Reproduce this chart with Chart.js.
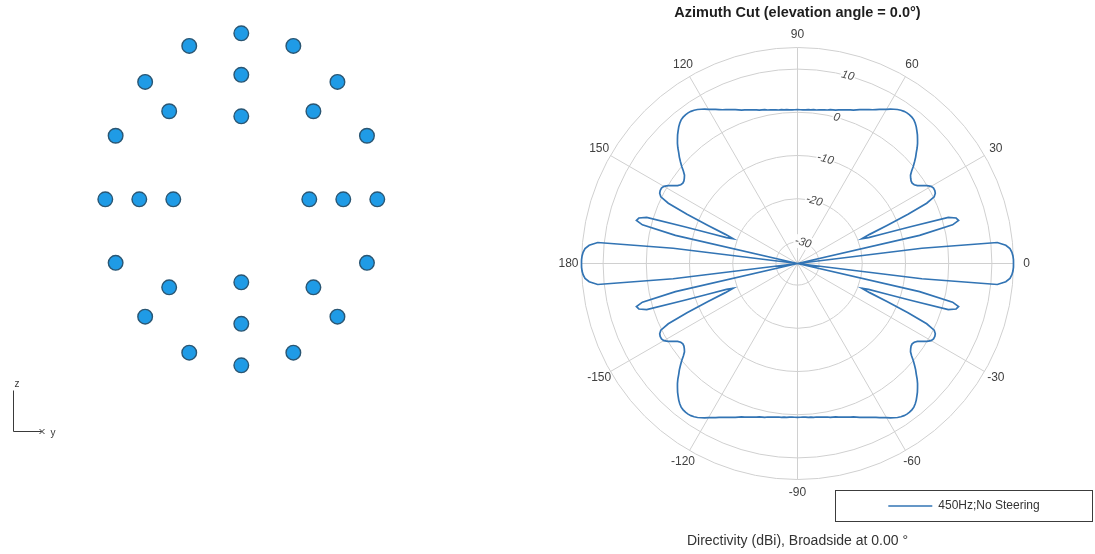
<!DOCTYPE html>
<html>
<head>
<meta charset="utf-8">
<title>Array geometry and azimuth cut</title>
<script src="https://cdn.jsdelivr.net/npm/chart.js@4.4.1/dist/chart.umd.min.js"></script>
<style>
  html, body { margin: 0; padding: 0; background: #fff; }
  body { width: 1095px; height: 554px; position: relative; overflow: hidden; }
  #geoBox { position: absolute; left: 0; top: 0; width: 480px; height: 480px; }
  #polarBox { position: absolute; left: 501px; top: 0; width: 593px; height: 554px; }
</style>
</head>
<body>
<div id="geoBox"><canvas id="geoChart"></canvas></div>
<div id="polarBox"><canvas id="polarChart"></canvas></div>
<script>
const FONT = '"Liberation Sans", Arial, Helvetica, sans-serif';

// element positions (m): y across, z up
const elementY = [0.2, 0, -0.2, 0,
    0.3, 0.2121, 0, -0.2121, -0.3, -0.2121, 0, 0.2121,
    0.4, 0.3696, 0.2828, 0.1531, 0, -0.1531, -0.2828, -0.3696,
    -0.4, -0.3696, -0.2828, -0.1531, 0, 0.1531, 0.2828, 0.3696];
const elementZ = [0, 0.2, 0, -0.2,
    0, 0.2121, 0.3, 0.2121, 0, -0.2121, -0.3, -0.2121,
    0, 0.1531, 0.2828, 0.3696, 0.4, 0.3696, 0.2828, 0.1531,
    0, -0.1531, -0.2828, -0.3696, -0.4, -0.3696, -0.2828, -0.1531];

// azimuth grid, -180 .. 179 deg in 1 deg steps
const azimuthDeg = Array.from({ length: 360 }, (_, k) => k - 180);

// directivity (dBi) at each azimuth of azimuthDeg, clipped at -35
const directivityDbi = [
    // -180 .. -90
    15.0, 15.0, 14.9, 14.7, 14.3, 13.4, 11.5, -6.0, -35, -35,
    -35, -35, -35, -6.0, 2.0, 3.6, 3.2, 1.5, -7.5, -13.5,
    -17.5, -19.0, -17.0, -12.5, -7.0, -2.0, 0.2, 0.8, 1.0, 1.0,
    0.7, 0.0, -1.0, -1.9, -2.4, -2.6, -2.5, -2.2, -1.8, -1.0,
    0.0, 0.9, 1.8, 2.6, 3.5, 4.3, 5.0, 5.7, 6.3, 6.9,
    7.4, 7.8, 8.0, 8.1, 8.1, 8.0, 7.8, 7.5, 7.1, 6.7,
    6.2, 5.8, 5.4, 5.0, 4.6, 4.3, 4.0, 3.7, 3.4, 3.1,
    2.8, 2.6, 2.4, 2.2, 2.0, 1.8, 1.6, 1.5, 1.4, 1.2,
    1.1, 1.0, 0.9, 0.8, 0.8, 0.7, 0.7, 0.6, 0.6, 0.6,
    0.6,
    // -89 .. -1
    0.6, 0.6, 0.6, 0.7, 0.7, 0.8, 0.8, 0.9, 1.0, 1.1,
    1.2, 1.4, 1.5, 1.6, 1.8, 2.0, 2.2, 2.4, 2.6, 2.8,
    3.1, 3.4, 3.7, 4.0, 4.3, 4.6, 5.0, 5.4, 5.8, 6.2,
    6.7, 7.1, 7.5, 7.8, 8.0, 8.1, 8.1, 8.0, 7.8, 7.4,
    6.9, 6.3, 5.7, 5.0, 4.3, 3.5, 2.6, 1.8, 0.9, 0.0,
    -1.0, -1.8, -2.2, -2.5, -2.6, -2.4, -1.9, -1.0, 0.0, 0.7,
    1.0, 1.0, 0.8, 0.2, -2.0, -7.0, -12.5, -17.0, -19.0, -17.5,
    -13.5, -7.5, 1.5, 3.2, 3.6, 2.0, -6.0, -35, -35, -35,
    -35, -35, -6.0, 11.5, 13.4, 14.3, 14.7, 14.9, 15.0,
    // 0 .. 90
    15.0, 15.0, 14.9, 14.7, 14.3, 13.4, 11.5, -6.0, -35, -35,
    -35, -35, -35, -6.0, 2.0, 3.6, 3.2, 1.5, -7.5, -13.5,
    -17.5, -19.0, -17.0, -12.5, -7.0, -2.0, 0.2, 0.8, 1.0, 1.0,
    0.7, 0.0, -1.0, -1.9, -2.4, -2.6, -2.5, -2.2, -1.8, -1.0,
    0.0, 0.9, 1.8, 2.6, 3.5, 4.3, 5.0, 5.7, 6.3, 6.9,
    7.4, 7.8, 8.0, 8.1, 8.1, 8.0, 7.8, 7.5, 7.1, 6.7,
    6.2, 5.8, 5.4, 5.0, 4.6, 4.3, 4.0, 3.7, 3.4, 3.1,
    2.8, 2.6, 2.4, 2.2, 2.0, 1.8, 1.6, 1.5, 1.4, 1.2,
    1.1, 1.0, 0.9, 0.8, 0.8, 0.7, 0.7, 0.6, 0.6, 0.6,
    0.6,
    // 91 .. 179
    0.6, 0.6, 0.6, 0.7, 0.7, 0.8, 0.8, 0.9, 1.0, 1.1,
    1.2, 1.4, 1.5, 1.6, 1.8, 2.0, 2.2, 2.4, 2.6, 2.8,
    3.1, 3.4, 3.7, 4.0, 4.3, 4.6, 5.0, 5.4, 5.8, 6.2,
    6.7, 7.1, 7.5, 7.8, 8.0, 8.1, 8.1, 8.0, 7.8, 7.4,
    6.9, 6.3, 5.7, 5.0, 4.3, 3.5, 2.6, 1.8, 0.9, 0.0,
    -1.0, -1.8, -2.2, -2.5, -2.6, -2.4, -1.9, -1.0, 0.0, 0.7,
    1.0, 1.0, 0.8, 0.2, -2.0, -7.0, -12.5, -17.0, -19.0, -17.5,
    -13.5, -7.5, 1.5, 3.2, 3.6, 2.0, -6.0, -35, -35, -35,
    -35, -35, -6.0, 11.5, 13.4, 14.3, 14.7, 14.9, 15.0
];

const ringTicksDb = [-30, -20, -10, 0, 10];
const rMin = -35;
const rMax = 15;
const azimuthTicks = [0, 30, 60, 90, 120, 150, 180, -150, -120, -90, -60, -30];

// radar goes clockwise from its start angle, azimuth runs the other way
const startAz = 75;
const polarLabels = [];
const polarData = [];
for (let i = 0; i < 360; i++) {
    let az = startAz - i;
    if (az < -180) az += 360;
    polarLabels.push(az);
    polarData.push(directivityDbi[azimuthDeg.indexOf(az)]);
}

// small y/z orientation glyph in the lower left corner
const axisTriad = {
    id: 'axisTriad',
    afterDraw(chart) {
        const ctx = chart.ctx;
        const x0 = 13.5, y0 = 431.5;
        ctx.save();
        ctx.strokeStyle = '#3a3a3a';
        ctx.lineWidth = 1;
        ctx.beginPath();
        ctx.moveTo(x0, y0 - 41);
        ctx.lineTo(x0, y0);
        ctx.lineTo(x0 + 28, y0);
        ctx.stroke();
        ctx.beginPath();
        ctx.moveTo(x0 + 26, y0 - 2.5); ctx.lineTo(x0 + 31, y0 + 2.5);
        ctx.moveTo(x0 + 26, y0 + 2.5); ctx.lineTo(x0 + 31, y0 - 2.5);
        ctx.stroke();
        ctx.fillStyle = '#3a3a3a';
        ctx.font = '10px ' + FONT;
        ctx.textBaseline = 'middle';
        ctx.fillText('z', x0 + 1, y0 - 47);
        ctx.fillText('y', x0 + 37, y0 + 2);
        ctx.restore();
    }
};

// azimuth labels centred on a fixed radius outside the outer ring
const azimuthLabels = {
    id: 'azimuthLabels',
    afterDraw(chart) {
        const r = chart.scales.r;
        const ctx = chart.ctx;
        ctx.save();
        ctx.font = '12px ' + FONT;
        ctx.fillStyle = '#404040';
        ctx.textAlign = 'center';
        ctx.textBaseline = 'middle';
        azimuthTicks.forEach(t => {
            const idx = polarLabels.indexOf(t === 180 ? -180 : t);
            const p = r.getPointPosition(idx, r.drawingArea + 13);
            ctx.fillText(String(t), p.x, p.y);
        });
        ctx.restore();
    }
};

// legend sits in a framed box at the lower right
const legendFrame = {
    id: 'legendFrame',
    afterLayout(chart) {
        const lg = chart.legend;
        lg.left = 334; lg.right = 592;
        lg.top = 490; lg.bottom = 522;
        lg.width = 258; lg.height = 32;
    },
    afterDraw(chart) {
        const lg = chart.legend;
        const ctx = chart.ctx;
        ctx.save();
        ctx.strokeStyle = '#3c3c3c';
        ctx.lineWidth = 1;
        ctx.strokeRect(lg.left + 0.5, lg.top + 0.5, lg.width - 1, lg.height - 1);
        ctx.restore();
    }
};

new Chart(document.getElementById('geoChart'), {
    type: 'scatter',
    data: {
        datasets: [{
            label: 'Elements',
            data: elementY.map((y, k) => ({ x: y, y: elementZ[k] })),
            pointRadius: 7.3,
            pointBorderWidth: 1.4,
            pointBackgroundColor: '#1f9be6',
            pointBorderColor: '#2a5673'
        }]
    },
    options: {
        responsive: true,
        maintainAspectRatio: false,
        animation: false,
        layout: { padding: 0, autoPadding: false },
        plugins: { legend: { display: false }, tooltip: { enabled: false } },
        scales: {
            x: { display: false, min: -0.7097, max: 0.7021 },
            y: { display: false, min: -0.6764, max: 0.4802 }
        }
    },
    plugins: [axisTriad]
});

new Chart(document.getElementById('polarChart'), {
    type: 'radar',
    data: {
        labels: polarLabels,
        datasets: [{
            label: '450Hz;No Steering',
            data: polarData,
            borderColor: '#3274b4',
            backgroundColor: '#3274b4',
            borderWidth: 1.7,
            pointRadius: 0,
            pointHitRadius: 0,
            fill: false,
            clip: false,
            tension: 0
        }]
    },
    options: {
        responsive: true,
        maintainAspectRatio: false,
        animation: false,
        plugins: {
            title: {
                display: true,
                text: 'Azimuth Cut (elevation angle = 0.0°)',
                color: '#1e1e1e',
                font: { family: FONT, size: 14.5, weight: 'bold' },
                padding: { top: 4, bottom: 4 }
            },
            subtitle: {
                display: true,
                position: 'bottom',
                text: 'Directivity (dBi), Broadside at 0.00 °',
                color: '#333',
                font: { family: FONT, size: 14 },
                padding: { top: 4, bottom: 4.5 }
            },
            legend: {
                display: true,
                position: 'bottom',
                align: 'center',
                labels: {
                    usePointStyle: true,
                    pointStyle: 'line',
                    pointStyleWidth: 44,
                    color: '#333',
                    font: { family: FONT, size: 12 },
                    padding: 10
                }
            },
            tooltip: { enabled: false }
        },
        scales: {
            r: {
                min: rMin,
                max: rMax,
                startAngle: 90 - startAz,
                afterBuildTicks: s => {
                    s.ticks = [rMin, ...ringTicksDb, rMax].map(v => ({ value: v }));
                },
                afterFit: s => {
                    s.xCenter = 296.5;
                    s.yCenter = 263.5;
                    s.drawingArea = 216;
                },
                grid: { circular: true, color: '#d0d0d0', lineWidth: 1 },
                angleLines: {
                    color: '#d0d0d0',
                    lineWidth: c => (polarLabels[c.index] % 30 === 0 ? 1 : 0)
                },
                pointLabels: { display: false },
                ticks: {
                    callback: v => (ringTicksDb.includes(v) ? String(v) : ''),
                    font: { family: FONT, size: 11.5, style: 'italic' },
                    color: '#4a4a4a',
                    backdropColor: 'rgba(255,255,255,0.9)',
                    backdropPadding: 1,
                    showLabelBackdrop: c => !!(c.tick && ringTicksDb.includes(c.tick.value))
                }
            }
        }
    },
    plugins: [azimuthLabels, legendFrame]
});
</script>
</body>
</html>
